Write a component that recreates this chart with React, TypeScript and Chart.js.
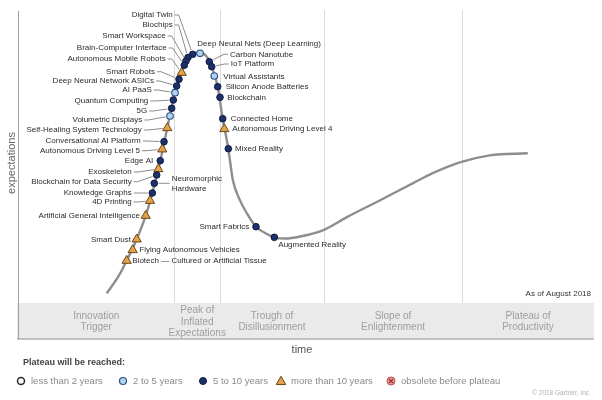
import { useEffect, useRef } from "react";
import { Chart, registerables } from "chart.js";

Chart.register(...registerables);

const FONT = '"Liberation Sans", Arial, Helvetica, sans-serif';

// ---- Data (time %, expectations %) ----
const curveTime = [15.4, 17.4, 18.87, 20.61, 22.17, 23.32, 24.7, 25.92, 26.96, 27.95, 29.17, 30.33, 31.6, 32.8, 33.63, 34.67, 35.54, 36.51, 37.3, 38.5, 39.8, 41.32, 42.9, 44.5, 46.4, 49.0, 53.0, 57.1, 62.8, 68.6, 72.0, 76.7, 81.9, 88.5];
const curveExpect = [3.3, 9.0, 14.44, 21.74, 29.8, 37.54, 48.57, 59.73, 69.28, 76.35, 82.59, 84.88, 85.5, 84.0, 80.65, 73.82, 62.9, 52.66, 42.0, 35.2, 30.4, 26.04, 23.9, 22.42, 22.0, 22.7, 24.9, 29.3, 35.0, 40.9, 44.3, 48.0, 50.4, 51.1];

const techNames = [
  "Digital Twin", "Biochips", "Smart Workspace", "Brain-Computer Interface", "Autonomous Mobile Robots",
  "Smart Robots", "Deep Neural Network ASICs", "AI PaaS", "Quantum Computing", "5G",
  "Volumetric Displays", "Self-Healing System Technology", "Conversational AI Platform", "Autonomous Driving Level 5", "Edge AI",
  "Exoskeleton", "Blockchain for Data Security", "Neuromorphic\nHardware", "Knowledge Graphs", "4D Printing",
  "Artificial General Intelligence", "Smart Dust", "Flying Autonomous Vehicles", "Biotech — Cultured or Artificial Tissue",
  "Deep Neural Nets (Deep Learning)", "Carbon Nanotube", "IoT Platform", "Virtual Assistants", "Silicon Anode Batteries",
  "Blockchain", "Connected Home", "Autonomous Driving Level 4", "Mixed Reality", "Smart Fabrics", "Augmented Reality",
];
const techTime = [
  30.33, 29.51, 29.17, 28.87, 28.42,
  27.95, 27.55, 27.26, 26.96, 26.68,
  26.39, 25.92, 25.35, 25.05, 24.7,
  24.36, 24.08, 23.66, 23.32, 22.92,
  22.17, 20.61, 19.91, 18.87,
  31.6, 33.21, 33.63, 34.08, 34.67,
  35.07, 35.54, 35.82, 36.51, 41.32, 44.5,
];
const techExpect = [
  84.88, 83.79, 82.59, 81.13, 78.6,
  76.35, 74.06, 71.77, 69.28, 66.45,
  63.82, 59.73, 55.05, 52.46, 48.57,
  45.73, 43.69, 40.85, 37.54, 34.91,
  29.8, 21.74, 18.09, 14.44,
  85.22, 82.35, 80.65, 77.47, 73.82,
  70.2, 62.9, 59.39, 52.66, 26.04, 22.42,
];
// plateau category index: 1 = 2 to 5 years, 2 = 5 to 10 years, 3 = more than 10 years
const techPlateau = [
  2, 2, 2, 2, 3,
  2, 2, 1, 2, 2,
  1, 3, 2, 3, 2,
  3, 2, 2, 2, 3,
  3, 3, 3, 3,
  1, 2, 2, 1, 2,
  2, 2, 3, 2, 2, 2,
];

const plateauLabels = ["less than 2 years", "2 to 5 years", "5 to 10 years", "more than 10 years", "obsolete before plateau"];
const phaseNames = ["Innovation\nTrigger", "Peak of\nInflated\nExpectations", "Trough of\nDisillusionment", "Slope of\nEnlightenment", "Plateau of\nProductivity"];
const phaseBounds = [0, 27.17, 35.07, 53.13, 77.08, 100];

// ---- Label layout (pixel offsets from each marker) ----
const labelDx = [
  -20, -15.3, -20.3, -17.6, -16,
  -24, -22.7, -23.3, -25, -24.4,
  -27.7, -25.6, -23.3, -22.3, -7,
  -26.6, -25, 17.4, -20.6, -18.3,
  -5.7, -5.7, 6.6, 5.6,
  -2.7, 20.7, 19, 9, 8,
  7.3, 8, 8, 6.7, -6.7, 4,
];
const labelDy = [
  -39.3, -32.5, -25, -17.3, -13.7,
  -7.6, -5, -2.7, 1, 2.7,
  4, 2, -0.7, 1.4, 0,
  3, 6.7, 0, 0, 1.3,
  0, 0, 0, 0.6,
  -10, -7.4, -2.7, 0.7, 0,
  0.4, 0, 0.3, 0.3, 0, 7.7,
];
const labelAlign = [
  "r", "r", "r", "r", "r",
  "r", "r", "r", "r", "r",
  "r", "r", "r", "r", "r",
  "r", "r", "l", "r", "r",
  "r", "r", "l", "l",
  "l", "l", "l", "l", "l",
  "l", "l", "l", "l", "r", "l",
];
const labelLeader = [
  1, 1, 1, 1, 1,
  1, 1, 1, 1, 1,
  1, 1, 1, 1, 0,
  1, 1, 1, 1, 1,
  0, 0, 0, 0,
  0, 1, 1, 0, 0,
  0, 0, 0, 0, 0, 0,
];

const COLORS = {
  lessFill: "#ffffff", lessBorder: "#2a2a2a",
  lightFill: "#b4d2ec", lightBorder: "#2c4e85",
  darkFill: "#1c3169", darkBorder: "#0e1a40",
  triFill: "#e4a24a", triBorder: "#6b4615",
  obsFill: "#e99595", obsBorder: "#c05050",
};

function markerData(cat: number) {
  const out: { x: number; y: number }[] = [];
  for (let i = 0; i < techNames.length; i++) {
    if (techPlateau[i] === cat) out.push({ x: techTime[i], y: techExpect[i] });
  }
  return out;
}

function drawTri(ctx: CanvasRenderingContext2D, cx: number, cy: number, r: number, fill: string, stroke: string) {
  ctx.beginPath();
  ctx.moveTo(cx, cy - r);
  ctx.lineTo(cx + r * 0.866, cy + r * 0.5);
  ctx.lineTo(cx - r * 0.866, cy + r * 0.5);
  ctx.closePath();
  ctx.fillStyle = fill;
  ctx.fill();
  ctx.strokeStyle = stroke;
  ctx.lineWidth = 1;
  ctx.stroke();
}

function drawCircle(ctx: CanvasRenderingContext2D, cx: number, cy: number, r: number, fill: string, stroke: string, lw = 1) {
  ctx.beginPath();
  ctx.arc(cx, cy, r, 0, Math.PI * 2);
  ctx.fillStyle = fill;
  ctx.fill();
  ctx.strokeStyle = stroke;
  ctx.lineWidth = lw;
  ctx.stroke();
}

const hypePlugin = {
  id: "hypeDecor",
  beforeDraw(chart: any) {
    const { ctx, width, height } = chart;
    ctx.save();
    ctx.fillStyle = "#ffffff";
    ctx.fillRect(0, 0, width, height);
    ctx.restore();
  },
  beforeDatasetsDraw(chart: any) {
    const { ctx, chartArea: ca, scales } = chart;
    const x = scales.x;
    const y = scales.y;
    ctx.save();
    // phase dividers
    ctx.strokeStyle = "#dadada";
    ctx.lineWidth = 1;
    for (let i = 1; i < phaseBounds.length - 1; i++) {
      const px = Math.round(x.getPixelForValue(phaseBounds[i])) + 0.5;
      ctx.beginPath();
      ctx.moveTo(px, ca.top);
      ctx.lineTo(px, ca.bottom);
      ctx.stroke();
    }
    // phase band
    const bandTop = ca.bottom;
    const bandH = 36;
    ctx.fillStyle = "#eaeaea";
    ctx.fillRect(ca.left - 1, bandTop, ca.right - ca.left + 1, bandH);
    ctx.strokeStyle = "#b0b0b0";
    ctx.lineWidth = 1.5;
    ctx.beginPath();
    ctx.moveTo(ca.left - 1, bandTop + bandH);
    ctx.lineTo(ca.right, bandTop + bandH);
    ctx.stroke();
    // y axis line
    ctx.strokeStyle = "#a0a0a0";
    ctx.lineWidth = 1;
    ctx.beginPath();
    ctx.moveTo(ca.left + 0.5, ca.top + 1);
    ctx.lineTo(ca.left + 0.5, bandTop + bandH);
    ctx.stroke();
    // phase names
    ctx.fillStyle = "#9e9e9e";
    ctx.font = `10px ${FONT}`;
    ctx.textAlign = "center";
    ctx.textBaseline = "middle";
    const bandMid = bandTop + 19;
    phaseNames.forEach((n, i) => {
      const cx = x.getPixelForValue((phaseBounds[i] + phaseBounds[i + 1]) / 2);
      const lines = n.split("\n");
      const lh = lines.length > 2 ? 11.5 : 11;
      lines.forEach((l, j) => ctx.fillText(l, cx, bandMid + (j - (lines.length - 1) / 2) * lh));
    });
    // leader lines
    ctx.strokeStyle = "#6f6f6f";
    ctx.lineWidth = 0.8;
    for (let i = 0; i < techNames.length; i++) {
      if (!labelLeader[i]) continue;
      const px = x.getPixelForValue(techTime[i]);
      const py = y.getPixelForValue(techExpect[i]);
      const lx = px + labelDx[i];
      const ly = py + labelDy[i];
      const s = labelAlign[i] === "r" ? 1 : -1;
      const x0 = lx + 2 * s;
      const x1 = lx + 6 * s;
      const dx = px - x1;
      const dy = py - ly;
      const d = Math.hypot(dx, dy) || 1;
      const ex = px - (dx / d) * 4.5;
      const ey = py - (dy / d) * 4.5;
      ctx.beginPath();
      ctx.moveTo(x0, ly);
      ctx.lineTo(x1, ly);
      ctx.lineTo(ex, ey);
      ctx.stroke();
    }
    ctx.restore();
  },
  afterDatasetsDraw(chart: any) {
    const { ctx, chartArea: ca, scales } = chart;
    const x = scales.x;
    const y = scales.y;
    ctx.save();
    // technology labels
    ctx.fillStyle = "#2b2b2b";
    ctx.font = `8px ${FONT}`;
    ctx.textBaseline = "middle";
    for (let i = 0; i < techNames.length; i++) {
      const px = x.getPixelForValue(techTime[i]);
      const py = y.getPixelForValue(techExpect[i]);
      const lx = px + labelDx[i];
      const ly = py + labelDy[i];
      ctx.textAlign = labelAlign[i] === "r" ? "right" : "left";
      const lines = techNames[i].split("\n");
      lines.forEach((l, j) => ctx.fillText(l, lx, ly + (j - (lines.length - 1) / 2) * 10));
    }
    // as of
    ctx.fillStyle = "#333333";
    ctx.textAlign = "right";
    ctx.fillText("As of August 2018", ca.right - 3, ca.bottom - 9);
    // axis titles
    ctx.fillStyle = "#555555";
    ctx.font = `11px ${FONT}`;
    ctx.textAlign = "center";
    ctx.fillText("time", 302, 350);
    ctx.save();
    ctx.translate(11.5, 163);
    ctx.rotate(-Math.PI / 2);
    ctx.fillStyle = "#666666";
    ctx.fillText("expectations", 0, 0);
    ctx.restore();
    // legend
    ctx.fillStyle = "#444444";
    ctx.font = `bold 9px ${FONT}`;
    ctx.textAlign = "left";
    ctx.fillText("Plateau will be reached:", 23, 363);
    const iconX = [21, 123, 203, 281, 391];
    const ly = 381;
    ctx.font = `9.5px ${FONT}`;
    plateauLabels.forEach((lab, k) => {
      const ix = iconX[k];
      if (k === 0) drawCircle(ctx, ix, ly, 3.5, COLORS.lessFill, COLORS.lessBorder, 1.5);
      if (k === 1) drawCircle(ctx, ix, ly, 3.5, COLORS.lightFill, COLORS.lightBorder, 1.2);
      if (k === 2) drawCircle(ctx, ix, ly, 3.5, COLORS.darkFill, COLORS.darkBorder, 1);
      if (k === 3) drawTri(ctx, ix, ly + 0.8, 5.5, COLORS.triFill, COLORS.triBorder);
      if (k === 4) {
        drawCircle(ctx, ix, ly, 4, COLORS.obsFill, COLORS.obsBorder, 1);
        ctx.strokeStyle = "#a03030";
        ctx.lineWidth = 1.1;
        ctx.beginPath();
        ctx.moveTo(ix - 2, ly - 2);
        ctx.lineTo(ix + 2, ly + 2);
        ctx.moveTo(ix + 2, ly - 2);
        ctx.lineTo(ix - 2, ly + 2);
        ctx.stroke();
      }
      ctx.fillStyle = "#8a8a8a";
      ctx.textAlign = "left";
      ctx.fillText(lab, ix + 10, ly);
    });
    ctx.fillStyle = "#b0b0b0";
    ctx.font = `6.5px ${FONT}`;
    ctx.textAlign = "right";
    ctx.fillText("© 2018 Gartner, Inc", 589, 393.5);
    ctx.restore();
  },
};

export default function App() {
  const ref = useRef<HTMLCanvasElement | null>(null);
  useEffect(() => {
    document.body.style.margin = "0";
    const canvas = ref.current;
    if (!canvas) return;
    const chart = new Chart(canvas, {
      type: "scatter",
      data: {
        datasets: [
          {
            label: "2 to 5 years",
            data: markerData(1),
            pointStyle: "circle",
            pointRadius: 3.3,
            pointBackgroundColor: COLORS.lightFill,
            pointBorderColor: COLORS.lightBorder,
            pointBorderWidth: 1.1,
            order: 1,
          },
          {
            label: "5 to 10 years",
            data: markerData(2),
            pointStyle: "circle",
            pointRadius: 3.3,
            pointBackgroundColor: COLORS.darkFill,
            pointBorderColor: COLORS.darkBorder,
            pointBorderWidth: 1,
            order: 2,
          },
          {
            label: "more than 10 years",
            data: markerData(3),
            pointStyle: "triangle",
            pointRadius: 5.3,
            pointBackgroundColor: COLORS.triFill,
            pointBorderColor: COLORS.triBorder,
            pointBorderWidth: 1,
            order: 3,
          },
          {
            type: "line",
            label: "Hype curve",
            data: curveTime.map((t, i) => ({ x: t, y: curveExpect[i] })),
            borderColor: "#8e8e8e",
            borderWidth: 2.4,
            pointRadius: 0,
            showLine: true,
            fill: false,
            cubicInterpolationMode: "monotone",
            order: 10,
          } as any,
        ],
      },
      options: {
        responsive: false,
        animation: false,
        devicePixelRatio: 1,
        layout: { padding: { left: 18, right: 8, top: 10, bottom: 97 } },
        scales: {
          x: { type: "linear", min: 0, max: 100, display: false },
          y: { type: "linear", min: 0, max: 100, display: false },
        },
        plugins: {
          legend: { display: false },
          tooltip: { enabled: false },
        },
      },
      plugins: [hypePlugin],
    } as any);
    return () => chart.destroy();
  }, []);
  return <canvas ref={ref} width={602} height={400} style={{ display: "block" }} />;
}
